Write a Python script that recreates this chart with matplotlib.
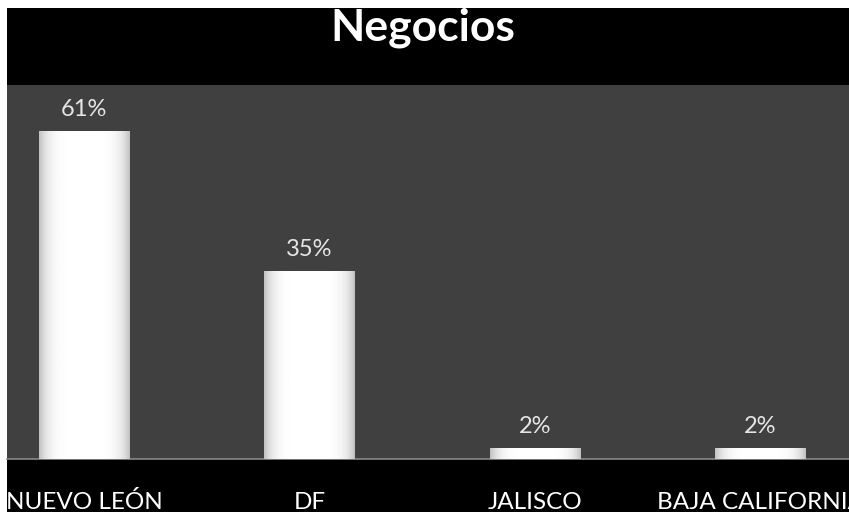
import numpy as np
import matplotlib
matplotlib.use('Agg')
import matplotlib.pyplot as plt
from matplotlib.patches import Rectangle

# chart data
categories = ['NUEVO LEÓN', 'DF', 'JALISCO', 'BAJA CALIFORNIA']
values = [61, 35, 2, 2]
value_labels = ['61%', '35%', '2%', '2%']
title = 'Negocios'

W, H = 849, 512
fig = plt.figure(figsize=(W / 100, H / 100), dpi=100, facecolor='black')
# white strips on the left and top edges, like the screenshot
fig.patches.append(Rectangle((0, 0), 7 / W, 1, transform=fig.transFigure,
                             facecolor='white', edgecolor='none', zorder=-5))
fig.patches.append(Rectangle((0, 1 - 8 / H), 1, 8 / H, transform=fig.transFigure,
                             facecolor='white', edgecolor='none', zorder=-5))

ax = fig.add_axes([7 / W, (H - 459) / H, 842 / W, 374 / H])
ax.set_zorder(2)
ax.set_facecolor('#404040')
x = np.arange(len(categories))
bars = ax.bar(x, values, width=0.4, color='white', edgecolor='none', zorder=2)

# horizontal shading of bars: grey edges, white centre
grad = np.linspace(-1, 1, 200)
shade = 1 - 0.25 * np.abs(grad) ** 5
img = np.tile(shade, (20, 1))
for b in bars:
    x0, w, h = b.get_x(), b.get_width(), b.get_height()
    im = ax.imshow(img, cmap='gray', vmin=0, vmax=1, aspect='auto',
                   extent=(x0, x0 + w, 0, h), zorder=3, interpolation='bilinear')
    im.set_clip_path(b)

for b, lab in zip(bars, value_labels):
    ax.annotate(lab, (b.get_x() + b.get_width() / 2, b.get_height()),
                xytext=(0, 11), textcoords='offset points', ha='center', va='baseline',
                color='#e6e6e6', fontsize=17, family='Lato')

ax.set_xlim(-0.341, 3.392)
ax.set_ylim(0, 69.6)
ax.set_xticks([])
ax.set_yticks([])
for s in ['top', 'left', 'right']:
    ax.spines[s].set_visible(False)
ax.spines['bottom'].set_color('#8a8a8a')
ax.spines['bottom'].set_linewidth(1.2)

# category labels below the axis
for xi, cat in zip(x, categories):
    px = ax.transData.transform((xi, 0))[0]
    fig.text(px / W, 3 / H, cat, ha='center', va='baseline', color='white',
             fontsize=17.5, family='Lato', zorder=5)

fig.text(423 / W, 1 - 28 / H, title, ha='center', va='center', color='white',
         fontsize=32, fontweight='bold', family='Lato', zorder=5)

fig.savefig('out.png', dpi=100, facecolor=fig.get_facecolor())
